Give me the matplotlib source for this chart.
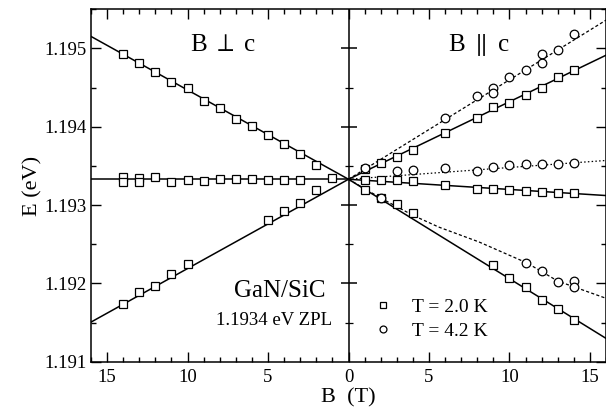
import matplotlib
matplotlib.use("Agg")
import matplotlib.pyplot as plt
import numpy as np
from matplotlib.ticker import MultipleLocator, FuncFormatter

plt.rcParams['font.family'] = ['Liberation Serif', 'DejaVu Serif']
plt.rcParams['mathtext.fontset'] = 'stix'

E0 = 1.19333  # zero-field line

# B perpendicular to c, T = 2.0 K (plotted on the left, B to -x)
perp_up_B = [14, 13, 12, 11, 10, 9, 8, 7, 6, 5, 4, 3, 2]
perp_up_E = [1.19493, 1.19482, 1.19470, 1.19457, 1.19449, 1.19433, 1.19424,
             1.19410, 1.19401, 1.19390, 1.19378, 1.19365, 1.19351]
perp_mid_B = [14, 14, 13, 13, 12, 11, 10, 9, 8, 7, 6, 5, 4, 3, 1]
perp_mid_E = [1.19336, 1.19330, 1.19335, 1.19330, 1.19336, 1.19330, 1.19332,
              1.19331, 1.19333, 1.19333, 1.19333, 1.19332, 1.19332, 1.19332, 1.19334]
perp_low_B = [14, 13, 12, 11, 10, 5, 4, 3, 2]
perp_low_E = [1.19174, 1.19189, 1.19197, 1.19212, 1.19225, 1.19281, 1.19293,
              1.19303, 1.19319]

# B parallel to c, T = 2.0 K
par2_up_B = [1, 2, 3, 4, 6, 8, 9, 10, 11, 12, 13, 14]
par2_up_E = [1.19346, 1.19354, 1.19361, 1.19371, 1.19392, 1.19411, 1.19425,
             1.19431, 1.19441, 1.19450, 1.19463, 1.19473]
par2_mid_B = [1, 2, 3, 4, 6, 8, 9, 10, 11, 12, 13, 14]
par2_mid_E = [1.19332, 1.19332, 1.19332, 1.19331, 1.19326, 1.19321, 1.19321,
              1.19319, 1.19318, 1.19317, 1.19316, 1.19315]
par2_low_B = [1, 2, 3, 4, 9, 10, 11, 12, 13, 14]
par2_low_E = [1.19319, 1.19309, 1.19301, 1.19290, 1.19224, 1.19207, 1.19196,
              1.19179, 1.19167, 1.19153]

# B parallel to c, T = 4.2 K
par4_up_B = [1, 6, 8, 9, 9, 10, 11, 12, 12, 13, 14]
par4_up_E = [1.19347, 1.19411, 1.19439, 1.19449, 1.19443, 1.19463, 1.19473,
             1.19493, 1.19482, 1.19498, 1.19519]
par4_mid_B = [3, 4, 6, 8, 9, 10, 11, 12, 13, 14]
par4_mid_E = [1.19343, 1.19345, 1.19347, 1.19344, 1.19349, 1.19351, 1.19352,
              1.19353, 1.19353, 1.19354]
par4_low_B = [2, 11, 12, 13, 14, 14]
par4_low_E = [1.19309, 1.19226, 1.19216, 1.19202, 1.19203, 1.19195]

# fitted splittings, slopes in eV/T
perp_slopes = [0.114e-3, 0.0, -0.114e-3]
par2_slopes = [0.099e-3, -0.013e-3, -0.127e-3]
par4_slopes = [0.127e-3, 0.015e-3]
# 4.2 K lower branch fit curve
par4_curve_B = [0, 1, 2, 3, 4, 5.6, 8.1, 11.1, 13, 16]
par4_curve_E = [1.19333, 1.19321, 1.19309, 1.19298, 1.19287, 1.19272,
                1.19253, 1.19226, 1.19203, 1.19181]

fig = plt.figure(figsize=(6.06, 4.17), dpi=100)
ax = fig.add_axes([0.1502, 0.1326, 0.8498, 0.845])

Bmax = 16
sq = dict(marker='s', ms=6.2, mfc='white', mec='black', mew=0.9, ls='none', zorder=3)
ci = dict(marker='o', ms=6.2, mfc='white', mec='black', mew=0.9, ls='none', zorder=3)

# fit lines
for s in perp_slopes:
    ax.plot([-Bmax, 0], [E0 + s * Bmax, E0], color='black', lw=1.1)
for s in par2_slopes:
    ax.plot([0, Bmax], [E0, E0 + s * Bmax], color='black', lw=1.1)
ax.plot([0, Bmax], [E0, E0 + par4_slopes[0] * Bmax], color='black', lw=0.9,
        ls=(0, (2.5, 1.8)))
ax.plot([0, Bmax], [E0, E0 + par4_slopes[1] * Bmax], color='black', lw=0.9,
        ls=(0, (1.2, 1.8)))
ax.plot(par4_curve_B, par4_curve_E, color='black', lw=0.9, ls=(0, (2.5, 1.8)))

# data points
ax.plot(-np.array(perp_up_B), perp_up_E, **sq)
ax.plot(-np.array(perp_mid_B), perp_mid_E, **sq)
ax.plot(-np.array(perp_low_B), perp_low_E, **sq)
ax.plot(par2_up_B, par2_up_E, label='T = 2.0 K', **sq)
ax.plot(par2_mid_B, par2_mid_E, **sq)
ax.plot(par2_low_B, par2_low_E, **sq)
ax.plot(par4_up_B, par4_up_E, label='T = 4.2 K', **ci)
ax.plot(par4_mid_B, par4_mid_E, **ci)
ax.plot(par4_low_B, par4_low_E, **ci)

# centre divider with ticks on both sides
ax.axvline(0, color='black', lw=1.1)
ax.plot(np.zeros(4), [1.192, 1.193, 1.194, 1.195], ls='none', marker='_',
        ms=12, mew=1.1, color='black')
ax.plot(np.zeros(4), [1.1915, 1.1925, 1.1935, 1.1945], ls='none', marker='_',
        ms=6, mew=0.9, color='black')

ax.set_xlim(-Bmax, Bmax)
ax.set_ylim(1.191, 1.1955)
ax.xaxis.set_major_locator(MultipleLocator(5))
ax.xaxis.set_minor_locator(MultipleLocator(1))
ax.yaxis.set_major_locator(MultipleLocator(0.001))
ax.yaxis.set_minor_locator(MultipleLocator(0.0005))
ax.xaxis.set_major_formatter(FuncFormatter(lambda v, p: '%d' % abs(round(v))))
ax.yaxis.set_major_formatter(FuncFormatter(lambda v, p: '%.3f' % v))
ax.tick_params(which='both', direction='in', top=True, right=True,
               labelsize=13.5, width=1.0)
ax.tick_params(which='major', length=7)
ax.tick_params(which='minor', length=3.5)
ax.tick_params(axis='x', pad=5)
for sp in ax.spines.values():
    sp.set_linewidth(1.1)

ax.set_xlabel('B  (T)', fontsize=16, labelpad=2)
ax.set_ylabel('E (eV)', fontsize=16, labelpad=1)

ax.text(-7.8, 1.19505, r'B $\perp$ c', fontsize=18, ha='center', va='center')
ax.text(8.1, 1.19505, r'B $\parallel$ c', fontsize=18, ha='center', va='center')
ax.text(-4.3, 1.19190, 'GaN/SiC', fontsize=18, ha='center', va='center')
ax.text(-1.0, 1.19153, '1.1934 eV ZPL', fontsize=13.5, ha='right', va='center')

ax.legend(loc='lower left', bbox_to_anchor=(0.495, 0.013), frameon=False,
          fontsize=14, handletextpad=0.5, labelspacing=0.3, markerscale=0.8)

fig.savefig('out.png', dpi=100)
